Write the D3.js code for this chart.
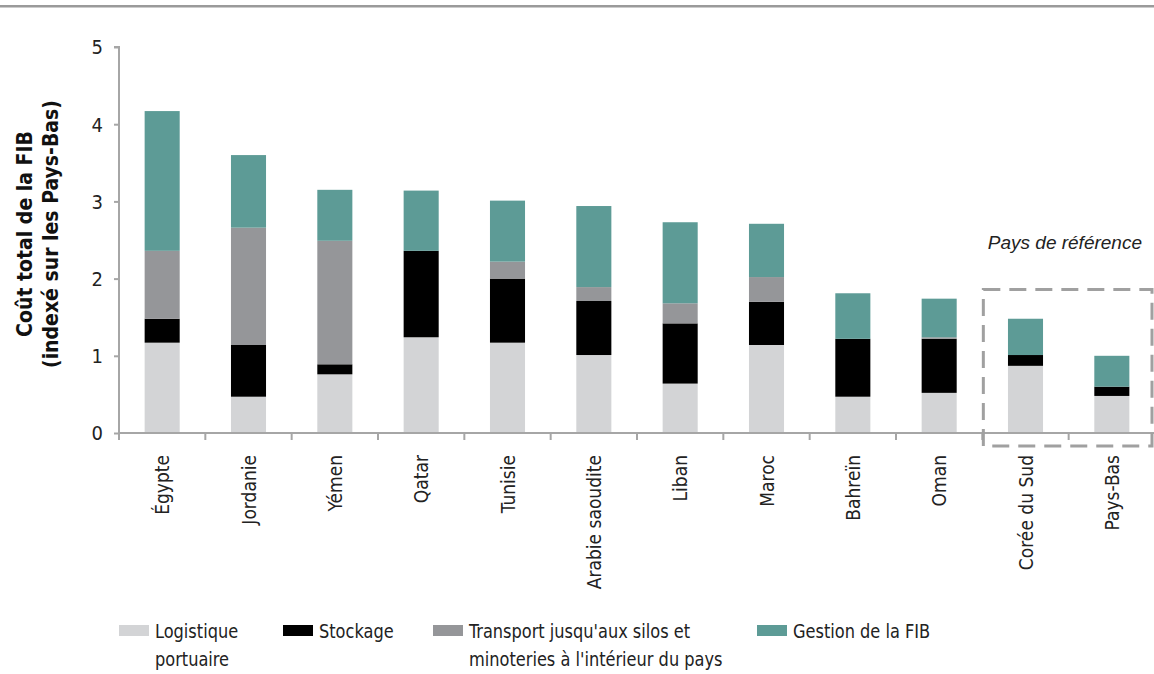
<!DOCTYPE html>
<html>
<head>
<meta charset="utf-8">
<script src="https://cdn.jsdelivr.net/npm/d3@7"></script>
<style>
  html, body { margin: 0; padding: 0; background: #fff; }
  svg { display: block; }
</style>
</head>
<body>
<svg id="chart" width="1154" height="674"></svg>
<script>
const countries = ["Égypte", "Jordanie", "Yémen", "Qatar", "Tunisie", "Arabie saoudite", "Liban", "Maroc", "Bahreïn", "Oman", "Corée du Sud", "Pays-Bas"];
const logistique = [1.17, 0.47, 0.76, 1.24, 1.17, 1.01, 0.64, 1.14, 0.47, 0.52, 0.87, 0.48];
const stockage   = [0.31, 0.67, 0.13, 1.12, 0.83, 0.70, 0.78, 0.56, 0.75, 0.70, 0.14, 0.12];
const transport  = [0.88, 1.52, 1.60, 0.00, 0.22, 0.18, 0.26, 0.32, 0.00, 0.02, 0.00, 0.00];
const gestion    = [1.81, 0.94, 0.66, 0.78, 0.79, 1.05, 1.05, 0.69, 0.59, 0.50, 0.47, 0.40];
const seriesNames = ["Logistique portuaire", "Stockage", "Transport jusqu'aux silos et minoteries à l'intérieur du pays", "Gestion de la FIB"];
const legendLines = [["Logistique", "portuaire"], ["Stockage"], ["Transport jusqu'aux silos et", "minoteries à l'intérieur du pays"], ["Gestion de la FIB"]];
const colors = ["#d3d4d6", "#000000", "#959699", "#5d9b96"];
const yTicks = [0, 1, 2, 3, 4, 5];
const yTitle = ["Coût total de la FIB", "(indexé sur les Pays-Bas)"];
const refLabel = "Pays de référence";
const refCountries = ["Corée du Sud", "Pays-Bas"];

const svg = d3.select("#chart");
const axisColor = "#a6a6a6";
const fontFam = '"Liberation Sans Narrow", "Arial Narrow", "DejaVu Sans Condensed", sans-serif';

// top rule
svg.append("rect").attr("x", 0).attr("y", 5).attr("width", 1154).attr("height", 2.5).attr("fill", "#9a9a9a");

const x = d3.scaleBand().domain(countries).range([119, 1155]).paddingInner(0.594).paddingOuter(0.297);
const y = d3.scaleLinear().domain([0, 5]).range([433, 47]);

const table = countries.map((c, i) => ({ country: c, s0: logistique[i], s1: stockage[i], s2: transport[i], s3: gestion[i] }));
const stack = d3.stack().keys(["s0", "s1", "s2", "s3"])(table);

svg.append("g").selectAll("g").data(stack).join("g")
  .attr("fill", (d, i) => colors[i])
  .selectAll("rect").data(d => d).join("rect")
  .attr("x", d => x(d.data.country))
  .attr("width", x.bandwidth())
  .attr("y", d => y(d[1]))
  .attr("height", d => Math.max(0, y(d[0]) - y(d[1])));

// y axis
const yAxis = svg.append("g").attr("transform", "translate(119,0)")
  .call(d3.axisLeft(y).tickValues(yTicks).tickSize(5).tickPadding(11).tickFormat(d3.format("d")));
yAxis.select(".domain").attr("stroke", axisColor).attr("stroke-width", 2).attr("d", `M-5,${y(5)}H0V${y(0)}`);
yAxis.selectAll(".tick line").attr("stroke", axisColor).attr("stroke-width", 2);
yAxis.selectAll(".tick text").attr("font-family", fontFam).attr("font-size", 20).attr("fill", "#222").attr("dy", "0.34em");

// x axis line + boundary ticks
const x0 = x.range()[0], x1 = x.range()[1], step = x.step();
svg.append("line").attr("x1", x0).attr("x2", x1).attr("y1", y(0)).attr("y2", y(0))
  .attr("stroke", axisColor).attr("stroke-width", 2);
svg.append("g").selectAll("line").data(d3.range(countries.length + 1)).join("line")
  .attr("x1", i => x0 + i * step).attr("x2", i => x0 + i * step)
  .attr("y1", y(0)).attr("y2", y(0) + 7)
  .attr("stroke", axisColor).attr("stroke-width", 2);

// x labels
svg.append("g").selectAll("text").data(countries).join("text")
  .attr("transform", d => `translate(${x(d) + x.bandwidth() / 2 + 7},455) rotate(-90)`)
  .attr("text-anchor", "end")
  .attr("font-family", fontFam).attr("font-size", 19).attr("fill", "#222")
  .text(d => d);

// y title
const yt = svg.append("text").attr("transform", "translate(0,234) rotate(-90)")
  .attr("text-anchor", "middle").attr("font-family", fontFam).attr("font-size", 21)
  .attr("font-weight", "bold").attr("fill", "#111");
yt.selectAll("tspan").data(yTitle).join("tspan")
  .attr("x", 0).attr("y", (d, i) => 32 + i * 26).text(d => d);

// reference box
const boxLeft = x0 + countries.indexOf(refCountries[0]) * step;
svg.append("rect")
  .attr("x", boxLeft + 1).attr("y", y(1.86))
  .attr("width", x1 - 3 - (boxLeft + 1)).attr("height", y(0) + 13 - y(1.86))
  .attr("fill", "none").attr("stroke", "#a0a0a0").attr("stroke-width", 3)
  .attr("stroke-dasharray", "17,9");
svg.append("text").attr("x", 1142).attr("y", 249).attr("text-anchor", "end")
  .attr("font-family", '"Liberation Sans", "DejaVu Sans", sans-serif').attr("font-style", "italic")
  .attr("font-size", 19).attr("fill", "#222").text(refLabel);

// legend
const legX = [119, 283, 433, 757];
const lg = svg.append("g").selectAll("g").data(legendLines).join("g")
  .attr("transform", (d, i) => `translate(${legX[i]},0)`);
lg.append("rect").attr("x", 0).attr("y", 625).attr("width", 30).attr("height", 11)
  .attr("fill", (d, i) => colors[i]);
lg.append("text").attr("transform", "translate(36,0) scale(0.9,1)")
  .attr("font-family", fontFam).attr("font-size", 20).attr("fill", "#222")
  .selectAll("tspan").data(d => d).join("tspan")
  .attr("x", 0).attr("y", (d, i) => 638 + i * 28).text(d => d);
</script>
</body>
</html>
